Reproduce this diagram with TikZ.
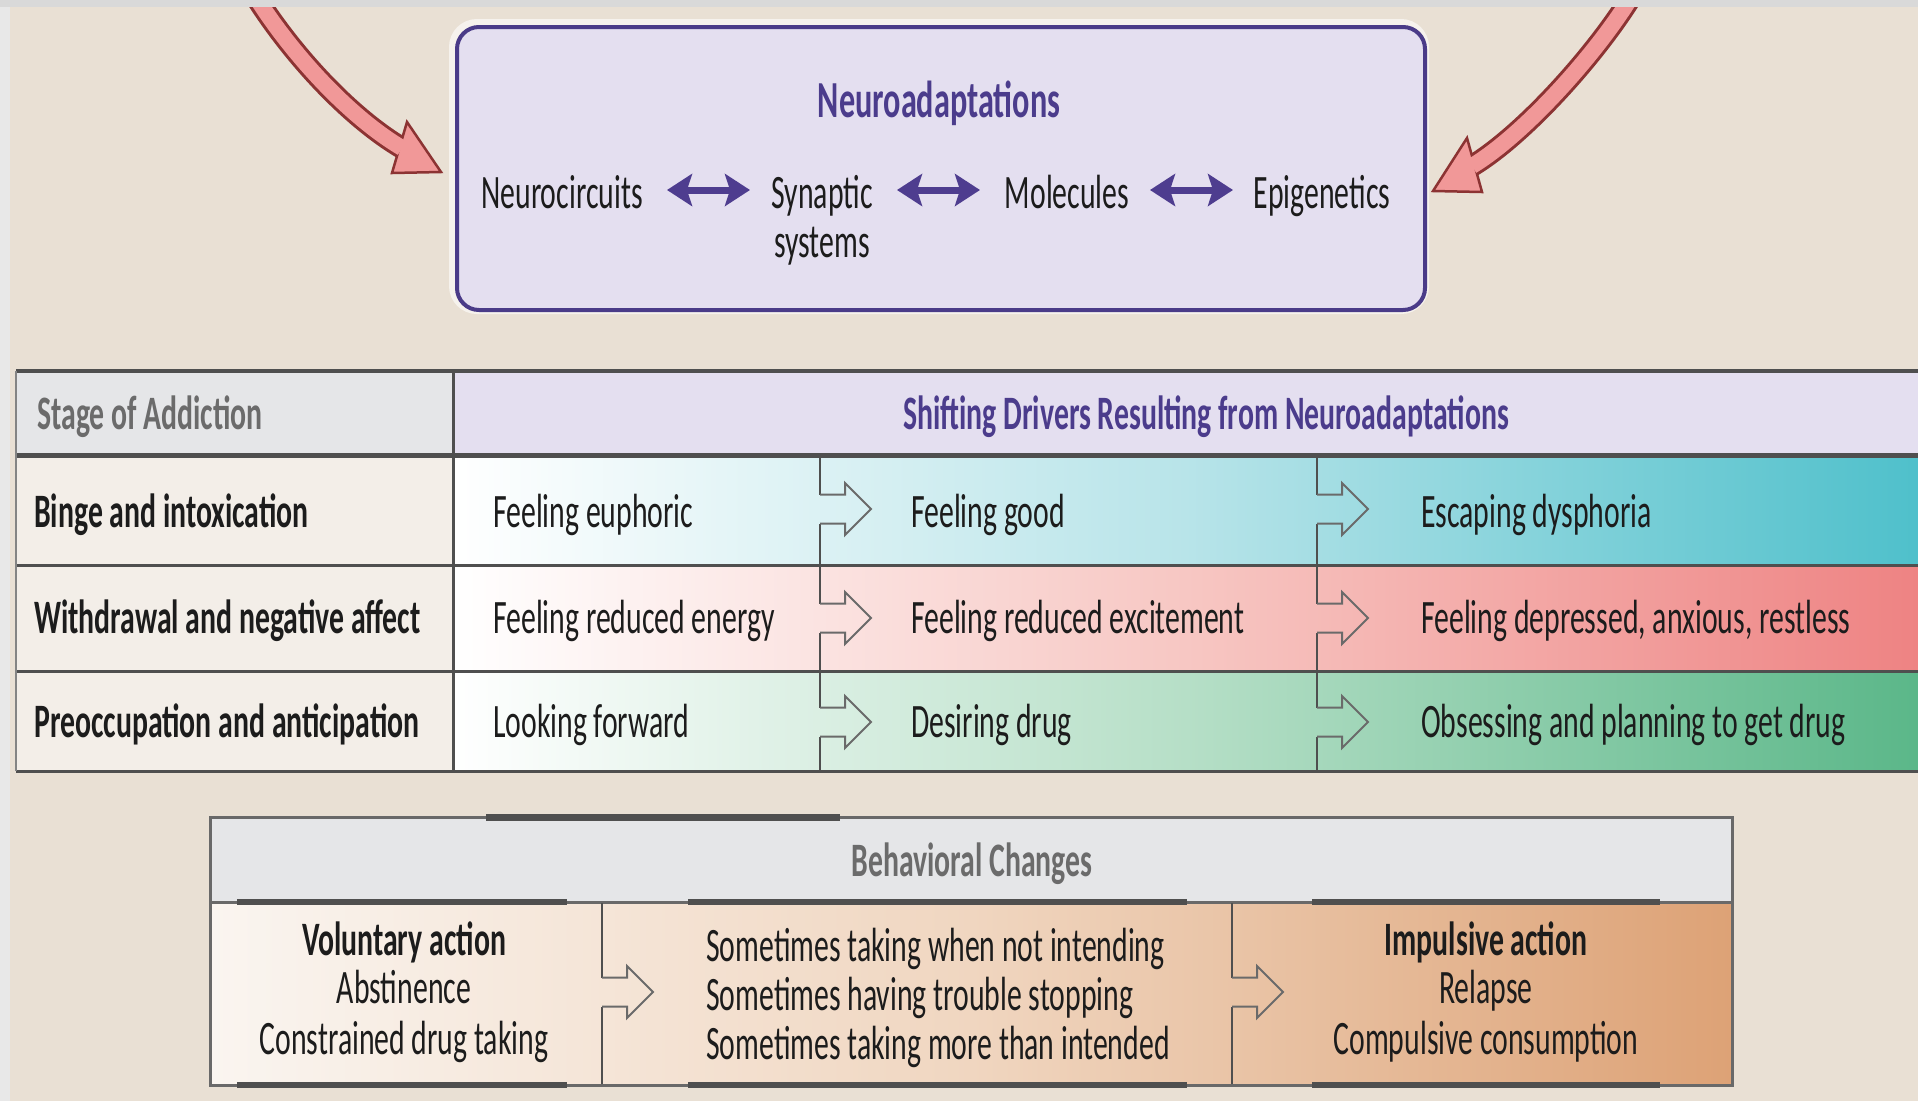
\documentclass[tikz,border=0pt]{standalone}
\usepackage{fontspec}
\setmainfont{Carlito}[FakeStretch=0.62]
\usetikzlibrary{arrows.meta}
\definecolor{bg}{HTML}{E9E0D4}
\definecolor{ink}{HTML}{1C1C1C}
\definecolor{ttlpurple}{HTML}{4B3C8C}
\definecolor{boxline}{HTML}{4A3B88}
\definecolor{boxfill}{HTML}{E4DFF0}
\definecolor{hdrgray}{HTML}{6B6B6B}
\definecolor{arrpurple}{HTML}{4E3D8F}
\definecolor{redout}{HTML}{8C3333}
\definecolor{redin}{HTML}{F19898}
\definecolor{tline}{HTML}{4F4F4F}
\definecolor{stagefill}{HTML}{F3EEE8}
\definecolor{hdrfill}{HTML}{E5E6E8}
\definecolor{tealR}{HTML}{4FC0CB}
\definecolor{tealM}{HTML}{B8E4E9}
\definecolor{pinkR}{HTML}{EE8383}
\definecolor{pinkM}{HTML}{F7C7C3}
\definecolor{greenR}{HTML}{5BB789}
\definecolor{greenM}{HTML}{B6DFC7}
\definecolor{tanL}{HTML}{FAF5F0}
\definecolor{tanM}{HTML}{F0D6C0}
\definecolor{tanR}{HTML}{DDA276}
\definecolor{harrowcol}{HTML}{6A6A6A}
\tikzset{
  txt/.style={font=\fontsize{48}{49}\selectfont, text=ink, inner sep=0pt},
  txtb/.style={font=\fontsize{48}{49}\selectfont\bfseries, text=ink, inner sep=0pt},
  ttl/.style={font=\fontsize{52}{54}\selectfont\bfseries, text=ttlpurple, inner sep=0pt},
  dbl/.style={draw=arrpurple, line width=7pt,
    arrows={Stealth[length=25pt,width=32pt,inset=5pt]-Stealth[length=25pt,width=32pt,inset=5pt]}},
  harrowline/.style={draw=harrowcol, line width=2pt, line join=miter},
  harrow/.pic={\draw[harrowline] (0,-14.5) -- (25,-14.5) -- (25,-26) -- (51,0) -- (25,26) -- (25,14.5) -- (0,14.5);},
  sepline/.style={draw=tline, line width=1.6pt},
}
\begin{document}
\begin{tikzpicture}[x=1pt,y=-1pt]
\useasboundingbox (0,0) rectangle (1918,1101);
% background
\fill[bg] (0,0) rectangle (1918,1101);
\fill[white!91!black] (0,0) rectangle (10,1101);

% ---- red curved arrows
\coordinate (L0) at (254,-6);
\coordinate (L1) at (290,52);
\coordinate (L2) at (348,116);
\coordinate (L3) at (402,148);
\draw[redout, line width=22pt] (L0) .. controls (L1) and (L2) .. (L3);
\filldraw[fill=redin, draw=redout, line width=2.5pt, line join=miter] (407,122) -- (441,172) -- (392,173) -- cycle;
\draw[redin, line width=16pt] (L0) .. controls (L1) and (L2) .. (L3);

\coordinate (R0) at (1633,-6);
\coordinate (R1) at (1598,52);
\coordinate (R2) at (1525,134);
\coordinate (R3) at (1472,166);
\draw[redout, line width=22pt] (R0) .. controls (R1) and (R2) .. (R3);
\filldraw[fill=redin, draw=redout, line width=2.5pt, line join=miter] (1467,138) -- (1433,191) -- (1482,192) -- cycle;
\draw[redin, line width=16pt] (R0) .. controls (R1) and (R2) .. (R3);

\fill[white!85!black] (0,0) rectangle (1918,7);

% ---- top box
\draw[white, opacity=0.6, line width=12pt, rounded corners=22pt] (455,25) rectangle (1423,308);
\node[draw=boxline, fill=boxfill, line width=4pt, rounded corners=22pt, minimum width=968pt, minimum height=283pt, inner sep=0pt, anchor=north west] (nbox) at (455,25) {};
\node[ttl, anchor=base] (title) at (939,117) {Neuroadaptations};
\node[txt, anchor=base] (nc) at (562,208) {Neurocircuits};
\node[txt, anchor=base] (syn) at (822,208) {Synaptic};
\node[txt, anchor=base] (sys) at (822,257) {systems};
\node[txt, anchor=base] (mol) at (1067,208) {Molecules};
\node[txt, anchor=base] (epi) at (1322,208) {Epigenetics};
\coordinate (a1l) at (667,190); \coordinate (a1r) at (750,190);
\coordinate (a2l) at (897,190); \coordinate (a2r) at (980,190);
\coordinate (a3l) at (1150,190); \coordinate (a3r) at (1233,190);
\draw[dbl] (a1l) -- (a1r);
\draw[dbl] (a2l) -- (a2r);
\draw[dbl] (a3l) -- (a3r);

% ---- table
\fill[hdrfill] (16,371) rectangle (453,455);
\fill[boxfill] (453,371) rectangle (1918,455);
\fill[stagefill] (16,455) rectangle (453,771);
\shade[left color=white, right color=tealR, middle color=tealM] (453,455) rectangle (1918,565);
\shade[left color=white, right color=pinkR, middle color=pinkM] (453,565) rectangle (1918,671);
\shade[left color=white, right color=greenR, middle color=greenM] (453,671) rectangle (1918,771);

\draw[tline, line width=4pt] (16,371) -- (1918,371);
\draw[tline, line width=5pt] (16,455) -- (1918,455);
\draw[tline, line width=3pt] (16,565) -- (1918,565);
\draw[tline, line width=3pt] (16,671) -- (1918,671);
\draw[tline, line width=3pt] (16,771) -- (1918,771);
\draw[tline!70, line width=2pt] (16,371) -- (16,771);
\draw[tline, line width=3pt] (453,371) -- (453,771);

% separators with hollow arrows
\foreach \xx in {820,1317}{
  \draw[sepline] (\xx,457) -- (\xx,494.5);
  \draw[sepline] (\xx,523.5) -- (\xx,603.5);
  \draw[sepline] (\xx,632.5) -- (\xx,707.5);
  \draw[sepline] (\xx,736.5) -- (\xx,771);
  \pic at (\xx,509) {harrow};
  \pic at (\xx,618) {harrow};
  \pic at (\xx,722) {harrow};
}

\node[txtb, text=hdrgray, anchor=base west] (hstage) at (37,429) {Stage of Addiction};
\node[txtb, text=ttlpurple, anchor=base] (hshift) at (1206,429) {Shifting Drivers Resulting from Neuroadaptations};

\node[txtb, anchor=base west] (s1) at (34,527) {Binge and intoxication};
\node[txtb, anchor=base west] (s2) at (34,633) {Withdrawal and negative affect};
\node[txtb, anchor=base west] (s3) at (34,737) {Preoccupation and anticipation};

\node[txt, anchor=base west] (d11) at (493,527) {Feeling euphoric};
\node[txt, anchor=base west] (d12) at (911,527) {Feeling good};
\node[txt, anchor=base west] (d13) at (1421,527) {Escaping dysphoria};
\node[txt, anchor=base west] (d21) at (493,633) {Feeling reduced energy};
\node[txt, anchor=base west] (d22) at (911,633) {Feeling reduced excitement};
\node[txt, anchor=base west] (d23) at (1421,633) {Feeling depressed, anxious, restless};
\node[txt, anchor=base west] (d31) at (493,737) {Looking forward};
\node[txt, anchor=base west] (d32) at (911,737) {Desiring drug};
\node[txt, anchor=base west] (d33) at (1421,737) {Obsessing and planning to get drug};

% ---- behavioral changes box
\fill[hdrfill] (210,817) rectangle (1732,902);
\shade[left color=tanL, right color=tanR, middle color=tanM] (210,902) rectangle (1732,1085);
\draw[tline!85, line width=3pt] (210,817) rectangle (1732,1085);
\draw[tline!85, line width=3pt] (210,902) -- (1732,902);
\draw[tline, line width=7pt] (486,817) -- (840,817);
\foreach \yy in {902,1085}{
  \draw[tline, line width=6pt] (237,\yy) -- (567,\yy);
  \draw[tline, line width=6pt] (688,\yy) -- (1187,\yy);
  \draw[tline, line width=6pt] (1312,\yy) -- (1660,\yy);
}
\foreach \xx in {602,1232}{
  \draw[sepline] (\xx,903) -- (\xx,977.5);
  \draw[sepline] (\xx,1006.5) -- (\xx,1084);
  \pic at (\xx,992) {harrow};
}
\node[txtb, text=hdrgray, anchor=base] (hbeh) at (972,876) {Behavioral Changes};

\node[txtb, anchor=base] (v1) at (404,955) {Voluntary action};
\node[txt, anchor=base] (v2) at (404,1003) {Abstinence};
\node[txt, anchor=base] (v3) at (404,1054) {Constrained drug taking};

\node[txt, anchor=base west] (m1) at (706,961) {Sometimes taking when not intending};
\node[txt, anchor=base west] (m2) at (706,1010) {Sometimes having trouble stopping};
\node[txt, anchor=base west] (m3) at (706,1059) {Sometimes taking more than intended};

\node[txtb, anchor=base] (i1) at (1486,955) {Impulsive action};
\node[txt, anchor=base] (i2) at (1486,1003) {Relapse};
\node[txt, anchor=base] (i3) at (1486,1054) {Compulsive consumption};
\end{tikzpicture}
\end{document}
